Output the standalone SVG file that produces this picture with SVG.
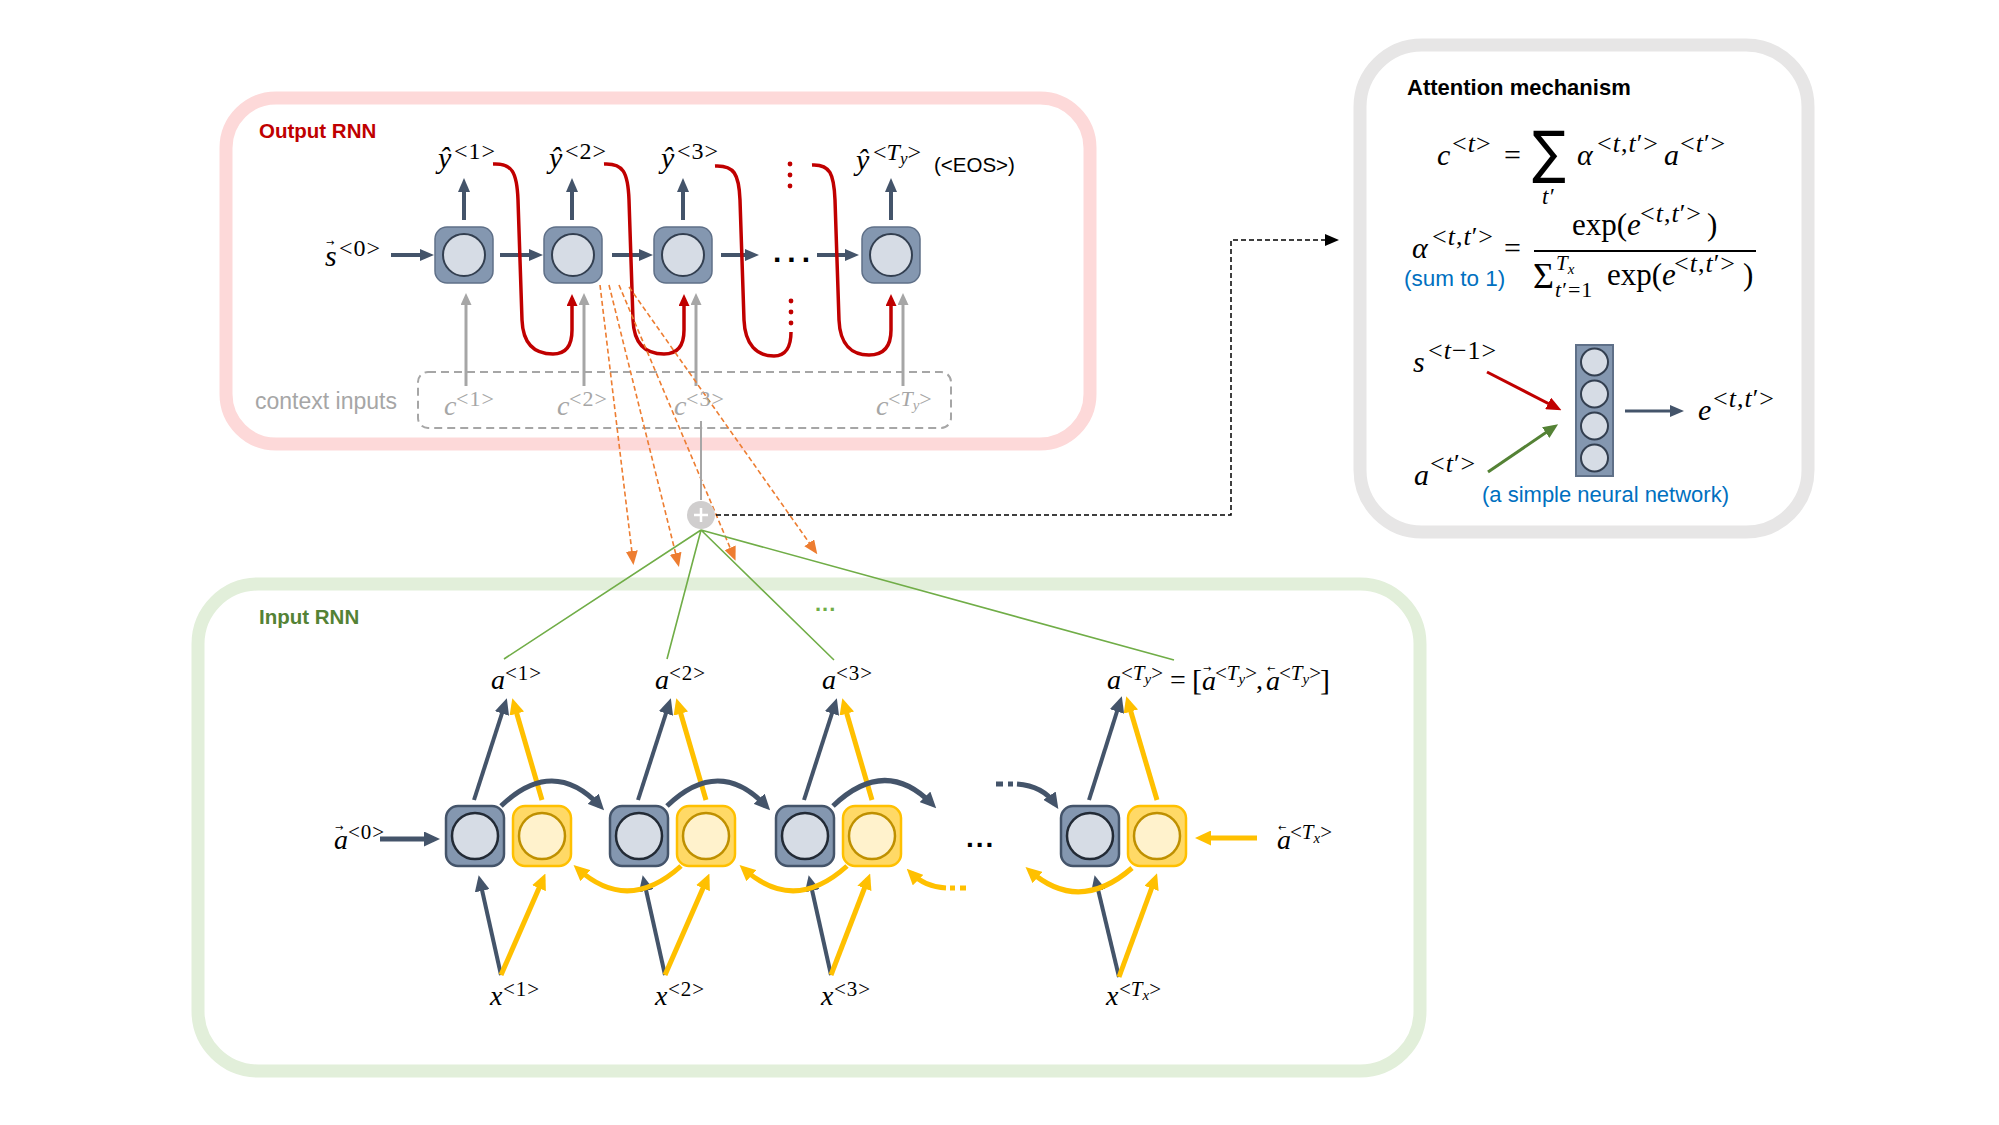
<svg xmlns="http://www.w3.org/2000/svg" width="1999" height="1125" viewBox="0 0 1999 1125">
<style>
.sans{font-family:"Liberation Sans",Arial,sans-serif}
.m{font-family:"Liberation Serif","DejaVu Serif",serif;font-style:italic;fill:#000}
.u{font-style:normal}
.g{fill:#A6A6A6}
.acc{font-family:"DejaVu Sans",sans-serif;font-style:normal;font-size:10px}
.nodeO{fill:#8497B0;stroke:#5F7088;stroke-width:1.5}
.innerO{fill:#D6DCE5;stroke:#333F50;stroke-width:2}
.nodeB{fill:#8497B0;stroke:#44546A;stroke-width:2.5}
.innerB{fill:#D6DCE5;stroke:#222A35;stroke-width:2.5}
.nodeY{fill:#FFD966;stroke:#FFC000;stroke-width:2.5}
.innerY{fill:#FFF2CC;stroke:#BF9000;stroke-width:2.5}
.dk{fill:none;stroke:#44546A;stroke-width:4}
.dkL{fill:none;stroke:#44546A;stroke-width:5}
.yl{fill:none;stroke:#FFC000;stroke-width:5}
.rd{fill:none;stroke:#C00000;stroke-width:3.5}
.gy{fill:none;stroke:#A6A6A6;stroke-width:3}
.or{fill:none;stroke:#ED7D31;stroke-width:1.6;stroke-dasharray:5 3}
.gr{fill:none;stroke:#70AD47;stroke-width:1.6}
.sp{letter-spacing:1px}
</style>
<defs>
<marker id="aDk" markerUnits="userSpaceOnUse" markerWidth="14" markerHeight="12" refX="9" refY="6" orient="auto"><path d="M0,0 L14,6 L0,12 z" fill="#44546A"/></marker>
<marker id="aDkL" markerUnits="userSpaceOnUse" markerWidth="16" markerHeight="15" refX="10" refY="7.5" orient="auto"><path d="M0,0 L16,7.5 L0,15 z" fill="#44546A"/></marker>
<marker id="aYl" markerUnits="userSpaceOnUse" markerWidth="16" markerHeight="15" refX="10" refY="7.5" orient="auto"><path d="M0,0 L16,7.5 L0,15 z" fill="#FFC000"/></marker>
<marker id="aRd" markerUnits="userSpaceOnUse" markerWidth="12" markerHeight="11" refX="8" refY="5.5" orient="auto"><path d="M0,0 L12,5.5 L0,11 z" fill="#C00000"/></marker>
<marker id="aGy" markerUnits="userSpaceOnUse" markerWidth="12" markerHeight="11" refX="8" refY="5.5" orient="auto"><path d="M0,0 L12,5.5 L0,11 z" fill="#A6A6A6"/></marker>
<marker id="aOr" markerUnits="userSpaceOnUse" markerWidth="14" markerHeight="12" refX="10" refY="6" orient="auto"><path d="M0,0 L14,6 L0,12 z" fill="#ED7D31"/></marker>
<marker id="aBk" markerUnits="userSpaceOnUse" markerWidth="14" markerHeight="12" refX="10" refY="6" orient="auto"><path d="M0,0 L14,6 L0,12 z" fill="#000"/></marker>
<marker id="aRd2" markerUnits="userSpaceOnUse" markerWidth="15" markerHeight="13" refX="10" refY="6.5" orient="auto"><path d="M0,0 L15,6.5 L0,13 z" fill="#C00000"/></marker>
<marker id="aGr2" markerUnits="userSpaceOnUse" markerWidth="15" markerHeight="13" refX="10" refY="6.5" orient="auto"><path d="M0,0 L15,6.5 L0,13 z" fill="#548235"/></marker>
</defs>
<rect width="1999" height="1125" fill="#fff"/>

<!-- Containers -->
<g id="output-rnn-box">
<rect x="226" y="98" width="864" height="346" rx="50" fill="none" stroke="#FDD9D9" stroke-width="13"/>
<text class="sans" x="259" y="138" font-size="20.5" font-weight="bold" fill="#C00000">Output RNN</text>
</g>
<g id="input-rnn-box">
<rect x="198" y="584" width="1222" height="487" rx="60" fill="none" stroke="#E2EFDA" stroke-width="13"/>
<text class="sans" x="259" y="624" font-size="20.5" font-weight="bold" fill="#548235">Input RNN</text>
</g>
<g id="attention-box">
<rect x="1360" y="45" width="448" height="487" rx="62" fill="none" stroke="#E7E6E6" stroke-width="13"/>
<text class="sans" x="1407" y="95" font-size="22" font-weight="bold" fill="#000">Attention mechanism</text>
</g>

<g id="context-inputs">
<rect x="418" y="372" width="533" height="56" rx="10" fill="none" stroke="#A6A6A6" stroke-width="2" stroke-dasharray="8 5"/>
<text class="sans g" x="255" y="409" font-size="23">context inputs</text>
</g>

<!-- Connectors -->
<g id="connectors">
<path class="dk" d="M391,255 H429" marker-end="url(#aDk)"/>
<path class="dk" d="M500,255 H538" marker-end="url(#aDk)"/>
<path class="dk" d="M612,255 H648" marker-end="url(#aDk)"/>
<path class="dk" d="M721,255 H754" marker-end="url(#aDk)"/>
<path class="dk" d="M817,255 H854" marker-end="url(#aDk)"/>
<path class="dk" d="M464,220 V183" stroke-width="3.5" marker-end="url(#aDk)"/>
<path class="dk" d="M572,220 V183" stroke-width="3.5" marker-end="url(#aDk)"/>
<path class="dk" d="M683,220 V183" stroke-width="3.5" marker-end="url(#aDk)"/>
<path class="dk" d="M891,220 V183" stroke-width="3.5" marker-end="url(#aDk)"/>
<path class="gy" d="M466,386 V297" marker-end="url(#aGy)"/>
<path class="gy" d="M584,386 V297" marker-end="url(#aGy)"/>
<path class="gy" d="M696,386 V297" marker-end="url(#aGy)"/>
<path class="gy" d="M903,386 V297" marker-end="url(#aGy)"/>
<path class="rd" d="M493,164 C512,163 517,172 518,200 L522,320 C523,345 535,354 553,354 C566,354 572,346 572,330 L572,298" marker-end="url(#aRd)"/>
<path class="rd" d="M604,164 C623,163 628,172 629,200 L633,320 C634,345 646,354 664,354 C677,354 684,346 684,330 L684,298" marker-end="url(#aRd)"/>
<path class="rd" d="M715,166 C734,165 739,174 740,200 L744,320 C745,345 757,356 774,356 C786,356 791,346 791,332"/>
<g fill="#C00000">
<circle cx="791" cy="301" r="2.4"/><circle cx="791" cy="312" r="2.4"/><circle cx="791" cy="323" r="2.4"/>
<circle cx="790" cy="164" r="2.4"/><circle cx="790" cy="175" r="2.4"/><circle cx="790" cy="186" r="2.4"/>
</g>
<path class="rd" d="M812,165 C830,164 834,174 835,200 L839,320 C840,345 852,355 869,355 C884,355 891,346 891,330 L891,298" marker-end="url(#aRd)"/>
<path class="or" d="M600,285 L633,561" marker-end="url(#aOr)"/>
<path class="or" d="M609,285 L678,563" marker-end="url(#aOr)"/>
<path class="or" d="M619,285 L734,557" marker-end="url(#aOr)"/>
<path class="or" d="M629,287 L815,551" marker-end="url(#aOr)"/>
<path d="M701,421 V500" stroke="#A6A6A6" stroke-width="2" fill="none"/>
<path d="M716,515 H1231 V240 H1335" fill="none" stroke="#000" stroke-width="1.5" stroke-dasharray="5 3" marker-end="url(#aBk)"/>
<path class="gr" d="M701,530 L504,659 M701,530 L667,659 M701,530 L834,660 M701,530 L1174,660"/>
<path class="dkL" d="M380,839 H434" marker-end="url(#aDkL)"/>
<path class="yl" d="M1257,838 H1201" marker-end="url(#aYl)"/>
<path class="dk" d="M474,800 L505,704" marker-end="url(#aDkL)"/>
<path class="yl" stroke-width="4" d="M542,800 L514,704" marker-end="url(#aYl)"/>
<path class="dk" d="M638,800 L669,704" marker-end="url(#aDkL)"/>
<path class="yl" stroke-width="4" d="M706,800 L678,704" marker-end="url(#aYl)"/>
<path class="dk" d="M804,800 L835,704" marker-end="url(#aDkL)"/>
<path class="yl" stroke-width="4" d="M872,800 L844,704" marker-end="url(#aYl)"/>
<path class="dk" d="M1089,800 L1120,702" marker-end="url(#aDkL)"/>
<path class="yl" stroke-width="4" d="M1157,800 L1128,702" marker-end="url(#aYl)"/>
<path class="dk" d="M501,975 L480,881" marker-end="url(#aDkL)"/>
<path class="yl" stroke-width="4" d="M501,975 L543,879" marker-end="url(#aYl)"/>
<path class="dk" d="M665,975 L644,881" marker-end="url(#aDkL)"/>
<path class="yl" stroke-width="4" d="M665,975 L707,879" marker-end="url(#aYl)"/>
<path class="dk" d="M831,975 L810,881" marker-end="url(#aDkL)"/>
<path class="yl" stroke-width="4" d="M831,975 L868,879" marker-end="url(#aYl)"/>
<path class="dk" d="M1119,977 L1096,881" marker-end="url(#aDkL)"/>
<path class="yl" stroke-width="4" d="M1119,977 L1155,879" marker-end="url(#aYl)"/>
<path class="dkL" d="M501,806 Q553,756 600,806" marker-end="url(#aDkL)"/>
<path class="dkL" d="M667,806 Q719,756 766,806" marker-end="url(#aDkL)"/>
<path class="dkL" d="M833,806 Q885,756 932,804" marker-end="url(#aDkL)"/>
<path class="dkL" d="M996,784 H1013" stroke-dasharray="7 5"/>
<path class="dkL" d="M1017,784 Q1043,786 1055,804" marker-end="url(#aDkL)"/>
<path class="yl" d="M681,866 Q628,914 578,869" marker-end="url(#aYl)"/>
<path class="yl" d="M847,866 Q794,914 744,869" marker-end="url(#aYl)"/>
<path class="yl" d="M1132,868 Q1079,914 1030,871" marker-end="url(#aYl)"/>
<path class="yl" d="M966,888 H950" stroke-dasharray="6 5"/>
<path class="yl" d="M946,888 Q925,887 911,873" marker-end="url(#aYl)"/>
<path d="M1487,372 L1557,408" fill="none" stroke="#C00000" stroke-width="3" marker-end="url(#aRd2)"/>
<path d="M1488,472 L1554,427" fill="none" stroke="#548235" stroke-width="3" marker-end="url(#aGr2)"/>
<path d="M1625,411 H1679" fill="none" stroke="#44546A" stroke-width="3" marker-end="url(#aDk)"/>
</g>

<!-- Output RNN nodes -->
<g id="dec1"><rect class="nodeO" x="435" y="227" width="58" height="56" rx="12"/><circle class="innerO" cx="464" cy="255" r="21"/></g>
<g id="dec2"><rect class="nodeO" x="544" y="227" width="58" height="56" rx="12"/><circle class="innerO" cx="573" cy="255" r="21"/></g>
<g id="dec3"><rect class="nodeO" x="654" y="227" width="58" height="56" rx="12"/><circle class="innerO" cx="683" cy="255" r="21"/></g>
<g id="dec4"><rect class="nodeO" x="862" y="227" width="58" height="56" rx="12"/><circle class="innerO" cx="891" cy="255" r="21"/></g>

<!-- Output labels -->
<g id="output-labels">
<text class="m"><tspan x="438" y="168" font-size="30">ŷ</tspan><tspan class="u sp" x="454" y="159" font-size="24">&lt;1&gt;</tspan></text>
<text class="m"><tspan x="549" y="168" font-size="30">ŷ</tspan><tspan class="u sp" x="565" y="159" font-size="24">&lt;2&gt;</tspan></text>
<text class="m"><tspan x="661" y="168" font-size="30">ŷ</tspan><tspan class="u sp" x="677" y="159" font-size="24">&lt;3&gt;</tspan></text>
<text class="m"><tspan x="856" y="170" font-size="30">ŷ</tspan><tspan class="u" x="873" y="160" font-size="24">&lt;</tspan><tspan font-size="24">T</tspan><tspan font-size="17" dy="4">y</tspan><tspan class="u" font-size="24" dy="-4">&gt;</tspan></text>
<text class="sans" x="934" y="172" font-size="20.5" fill="#000">(&lt;EOS&gt;)</text>
<text class="m"><tspan class="acc" x="326" y="246" font-size="11">→</tspan><tspan x="325" y="266" font-size="30">s</tspan><tspan class="u sp" x="339" y="256" font-size="24">&lt;0&gt;</tspan></text>
<text class="sans" x="773" y="262" font-size="30" font-weight="bold" letter-spacing="6" fill="#000">...</text>
</g>

<!-- Context labels -->
<g id="context-labels">
<text class="m g"><tspan x="444" y="415" font-size="28">c</tspan><tspan class="u sp" x="456" y="406" font-size="22">&lt;1&gt;</tspan></text>
<text class="m g"><tspan x="557" y="415" font-size="28">c</tspan><tspan class="u sp" x="569" y="406" font-size="22">&lt;2&gt;</tspan></text>
<text class="m g"><tspan x="674" y="415" font-size="28">c</tspan><tspan class="u sp" x="686" y="406" font-size="22">&lt;3&gt;</tspan></text>
<text class="m g"><tspan x="876" y="415" font-size="28">c</tspan><tspan class="u" x="888" y="406" font-size="22">&lt;</tspan><tspan font-size="22">T</tspan><tspan font-size="15" dy="4">y</tspan><tspan class="u" font-size="22" dy="-4">&gt;</tspan></text>
</g>

<!-- Sum node -->
<g id="sum-node">
<circle cx="701" cy="515" r="14" fill="#D0CECE"/>
<path d="M694,515 H708 M701,508 V522" stroke="#fff" stroke-width="2.5"/>
</g>
<text class="sans" x="815" y="611" font-size="22" font-weight="bold" letter-spacing="1" fill="#70AD47">...</text>

<!-- Input RNN nodes -->
<g id="encF1"><rect class="nodeB" x="446" y="806" width="58" height="60" rx="12"/><circle class="innerB" cx="475" cy="836" r="23"/></g>
<g id="encB1"><rect class="nodeY" x="513" y="806" width="58" height="60" rx="12"/><circle class="innerY" cx="542" cy="836" r="23"/></g>
<g id="encF2"><rect class="nodeB" x="610" y="806" width="58" height="60" rx="12"/><circle class="innerB" cx="639" cy="836" r="23"/></g>
<g id="encB2"><rect class="nodeY" x="677" y="806" width="58" height="60" rx="12"/><circle class="innerY" cx="706" cy="836" r="23"/></g>
<g id="encF3"><rect class="nodeB" x="776" y="806" width="58" height="60" rx="12"/><circle class="innerB" cx="805" cy="836" r="23"/></g>
<g id="encB3"><rect class="nodeY" x="843" y="806" width="58" height="60" rx="12"/><circle class="innerY" cx="872" cy="836" r="23"/></g>
<g id="encF4"><rect class="nodeB" x="1061" y="806" width="58" height="60" rx="12"/><circle class="innerB" cx="1090" cy="836" r="23"/></g>
<g id="encB4"><rect class="nodeY" x="1128" y="806" width="58" height="60" rx="12"/><circle class="innerY" cx="1157" cy="836" r="23"/></g>

<!-- Input labels -->
<g id="input-labels">
<text class="m"><tspan x="491" y="689" font-size="28">a</tspan><tspan class="u sp" x="505" y="680" font-size="21">&lt;1&gt;</tspan></text>
<text class="m"><tspan x="655" y="689" font-size="28">a</tspan><tspan class="u sp" x="669" y="680" font-size="21">&lt;2&gt;</tspan></text>
<text class="m"><tspan x="822" y="689" font-size="28">a</tspan><tspan class="u sp" x="836" y="680" font-size="21">&lt;3&gt;</tspan></text>
<text class="m"><tspan x="1107" y="689" font-size="28">a</tspan><tspan class="u" x="1121" y="680" font-size="21">&lt;</tspan><tspan font-size="21">T</tspan><tspan font-size="15" dy="4">y</tspan><tspan class="u" font-size="21" dy="-4">&gt;</tspan><tspan class="u" x="1170" y="689" font-size="28">=</tspan><tspan class="u" x="1192" y="690" font-size="30">[</tspan><tspan class="acc" x="1203" y="672">→</tspan><tspan x="1202" y="690" font-size="28">a</tspan><tspan class="u" x="1215" y="680" font-size="21">&lt;</tspan><tspan font-size="21">T</tspan><tspan font-size="15" dy="4">y</tspan><tspan class="u" font-size="21" dy="-4">&gt;</tspan><tspan class="u" x="1256" y="689" font-size="28">,</tspan><tspan class="acc" x="1267" y="672">←</tspan><tspan x="1266" y="690" font-size="28">a</tspan><tspan class="u" x="1279" y="680" font-size="21">&lt;</tspan><tspan font-size="21">T</tspan><tspan font-size="15" dy="4">y</tspan><tspan class="u" font-size="21" dy="-4">&gt;</tspan><tspan class="u" x="1320" y="690" font-size="30">]</tspan></text>
<text class="m"><tspan class="acc" x="335" y="831">→</tspan><tspan x="334" y="849" font-size="28">a</tspan><tspan class="u sp" x="348" y="839" font-size="21">&lt;0&gt;</tspan></text>
<text class="m"><tspan class="acc" x="1278" y="831">←</tspan><tspan x="1277" y="849" font-size="28">a</tspan><tspan class="u" x="1290" y="839" font-size="21">&lt;</tspan><tspan font-size="21">T</tspan><tspan font-size="15" dy="4">x</tspan><tspan class="u" font-size="21" dy="-4">&gt;</tspan></text>
<text class="m"><tspan x="490" y="1005" font-size="28">x</tspan><tspan class="u sp" x="503" y="996" font-size="21">&lt;1&gt;</tspan></text>
<text class="m"><tspan x="655" y="1005" font-size="28">x</tspan><tspan class="u sp" x="668" y="996" font-size="21">&lt;2&gt;</tspan></text>
<text class="m"><tspan x="821" y="1005" font-size="28">x</tspan><tspan class="u sp" x="834" y="996" font-size="21">&lt;3&gt;</tspan></text>
<text class="m"><tspan x="1106" y="1005" font-size="28">x</tspan><tspan class="u" x="1119" y="996" font-size="21">&lt;</tspan><tspan font-size="21">T</tspan><tspan font-size="15" dy="4">x</tspan><tspan class="u" font-size="21" dy="-4">&gt;</tspan></text>
<text class="sans" x="966" y="847" font-size="28" font-weight="bold" letter-spacing="2" fill="#000">...</text>
</g>

<!-- Attention content -->
<g id="attention-eq1">
<text class="m" font-size="30"><tspan x="1437" y="165">c</tspan><tspan class="u sp" x="1452" y="152" font-size="26">&lt;</tspan><tspan class="sp" font-size="26">t</tspan><tspan class="u" font-size="26">&gt;</tspan><tspan class="u" x="1504" y="165">=</tspan></text>
<text transform="translate(1532,172) scale(1,1.15)" font-family="DejaVu Sans, sans-serif" font-size="50">∑</text>
<text class="m" x="1542" y="204" font-size="23">t′</text>
<text class="m" font-size="30"><tspan x="1577" y="165">α</tspan><tspan class="u sp" x="1597" y="152" font-size="26">&lt;</tspan><tspan class="sp" font-size="26">t</tspan><tspan class="u sp" font-size="26">,</tspan><tspan class="sp" font-size="26">t</tspan><tspan class="u sp" font-size="26">′&gt;</tspan><tspan x="1664" y="165">a</tspan><tspan class="u sp" x="1680" y="152" font-size="26">&lt;</tspan><tspan class="sp" font-size="26">t</tspan><tspan class="u sp" font-size="26">′&gt;</tspan></text>
</g>
<g id="attention-eq2">
<text class="m" font-size="30"><tspan x="1412" y="258">α</tspan><tspan class="u sp" x="1432" y="245" font-size="26">&lt;</tspan><tspan class="sp" font-size="26">t</tspan><tspan class="u sp" font-size="26">,</tspan><tspan class="sp" font-size="26">t</tspan><tspan class="u sp" font-size="26">′&gt;</tspan><tspan class="u" x="1504" y="258">=</tspan></text>
<line x1="1534" y1="251" x2="1756" y2="251" stroke="#000" stroke-width="2"/>
<text class="m" font-size="31"><tspan class="u" x="1572" y="235">exp(</tspan><tspan>e</tspan><tspan class="u sp" x="1640" y="222" font-size="26">&lt;</tspan><tspan class="sp" font-size="26">t</tspan><tspan class="u sp" font-size="26">,</tspan><tspan class="sp" font-size="26">t</tspan><tspan class="u sp" font-size="26">′&gt;</tspan><tspan class="u" x="1707" y="235">)</tspan></text>
<text class="m" font-size="31"><tspan class="u" x="1533" y="288" font-size="36">Σ</tspan><tspan x="1556" y="270" font-size="21">T</tspan><tspan font-size="15" dy="4">x</tspan><tspan class="sp" x="1555" y="297" font-size="22">t</tspan><tspan class="u sp" font-size="22">′=1</tspan><tspan class="u" x="1607" y="285">exp(</tspan><tspan>e</tspan><tspan class="u sp" x="1674" y="272" font-size="26">&lt;</tspan><tspan class="sp" font-size="26">t</tspan><tspan class="u sp" font-size="26">,</tspan><tspan class="sp" font-size="26">t</tspan><tspan class="u sp" font-size="26">′&gt;</tspan><tspan class="u" x="1743" y="285">)</tspan></text>
<text class="sans" x="1404" y="286" font-size="22.5" fill="#0070C0">(sum to 1)</text>
</g>
<g id="attention-net">
<rect x="1576" y="345" width="37" height="131" fill="#8497B0" stroke="#5F7088" stroke-width="2"/>
<circle class="innerO" cx="1594.5" cy="362" r="13.5"/>
<circle class="innerO" cx="1594.5" cy="394" r="13.5"/>
<circle class="innerO" cx="1594.5" cy="426" r="13.5"/>
<circle class="innerO" cx="1594.5" cy="458" r="13.5"/>
</g>
<g id="attention-labels">
<text class="m" font-size="30"><tspan x="1413" y="372">s</tspan><tspan class="u sp" x="1428" y="359" font-size="26">&lt;</tspan><tspan class="sp" font-size="26">t</tspan><tspan class="u sp" font-size="26">−1&gt;</tspan></text>
<text class="m" font-size="30"><tspan x="1414" y="485">a</tspan><tspan class="u sp" x="1430" y="472" font-size="26">&lt;</tspan><tspan class="sp" font-size="26">t</tspan><tspan class="u sp" font-size="26">′&gt;</tspan></text>
<text class="m" font-size="30"><tspan x="1698" y="420">e</tspan><tspan class="u sp" x="1713" y="407" font-size="26">&lt;</tspan><tspan class="sp" font-size="26">t</tspan><tspan class="u sp" font-size="26">,</tspan><tspan class="sp" font-size="26">t</tspan><tspan class="u sp" font-size="26">′&gt;</tspan></text>
<text class="sans" x="1482" y="502" font-size="22" fill="#0070C0">(a simple neural network)</text>
</g>
</svg>
